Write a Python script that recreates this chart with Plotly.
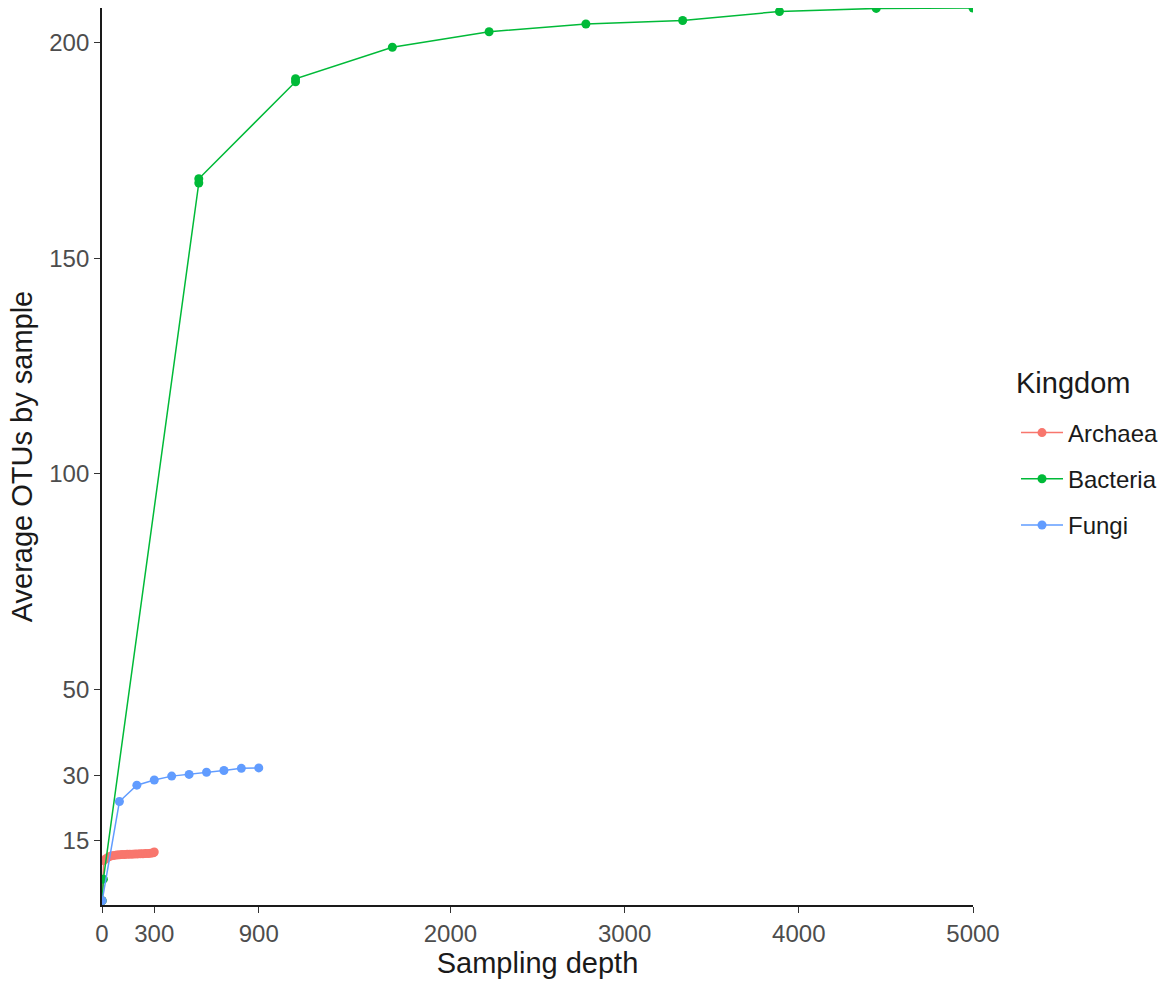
import plotly.graph_objects as go

# ---- data ----
archaea_x = [1, 10, 25, 40, 55, 70, 85, 100, 115, 130, 145, 160, 175, 190,
             205, 220, 235, 250, 265, 280, 295, 300]
archaea_y = [1, 10.3, 10.8, 11.2, 11.4, 11.5, 11.6, 11.65, 11.7, 11.72, 11.75,
             11.78, 11.8, 11.82, 11.85, 11.88, 11.9, 11.92, 11.95, 12.0, 12.1, 12.3]

bacteria_x = [1, 8, 555.6, 555.6, 1111.1, 1111.1, 1666.7, 2222.2, 2777.8,
              3333.3, 3888.9, 4444.4, 5000]
bacteria_y = [1, 6, 167.5, 168.5, 191.0, 191.7, 199.0, 202.6, 204.4,
              205.2, 207.3, 208.0, 208.1]

fungi_x = [1, 100, 200, 300, 400, 500, 600, 700, 800, 900]
fungi_y = [1, 24.0, 27.8, 29.0, 29.9, 30.3, 30.8, 31.2, 31.7, 31.8]

x_ticks = [0, 300, 900, 2000, 3000, 4000, 5000]
y_ticks = [15, 30, 50, 100, 150, 200]

series = [
    ("Archaea", archaea_x, archaea_y, "#F8766D"),
    ("Bacteria", bacteria_x, bacteria_y, "#00BA38"),
    ("Fungi", fungi_x, fungi_y, "#619CFF"),
]

FONT = "Liberation Sans, Arial, sans-serif"
W, H = 1173, 985
ML, MR, MT, MB = 102, 200, 8, 80
PW, PH = W - ML - MR, H - MT - MB

fig = go.Figure()
for name, xs, ys, col in series:
    fig.add_trace(go.Scatter(
        x=xs, y=ys, name=name, legendgroup=name, mode="lines+markers",
        line=dict(color=col, width=1.5),
        marker=dict(color=col, size=9),
    ))

fig.update_layout(
    width=W, height=H,
    margin=dict(l=ML, r=MR, t=MT, b=MB, autoexpand=False),
    paper_bgcolor="white", plot_bgcolor="white",
    font=dict(family=FONT, size=24, color="#1A1A1A"),
    legend=dict(
        x=(1016 - ML) / PW, xanchor="left",
        y=(MT + PH - 479) / PH, yanchor="middle",
        font=dict(size=24, color="#1A1A1A"),
        tracegroupgap=12, itemwidth=42,
    ),
    annotations=[dict(
        text="Kingdom", xref="paper", yref="paper",
        x=(1014 - ML) / PW, y=(MT + PH - 383) / PH,
        xanchor="left", yanchor="middle", showarrow=False,
        font=dict(size=29, color="#1A1A1A", family=FONT),
    )],
    hovermode=False,
)

axis_common = dict(
    showgrid=False, zeroline=False, showline=True,
    linecolor="#1A1A1A", linewidth=1.8,
    ticks="outside", ticklen=6, tickwidth=1.4, tickcolor="#333333",
    tickfont=dict(family=FONT, size=24, color="#4D4D4D"),
)

fig.update_xaxes(
    range=[0, 5000], tickvals=x_ticks, ticktext=[str(v) for v in x_ticks],
    title=dict(text="Sampling depth", font=dict(size=29, color="#1A1A1A"), standoff=6),
    **axis_common,
)
fig.update_yaxes(
    range=[0, 208.1], tickvals=y_ticks, ticktext=[str(v) for v in y_ticks],
    title=dict(text="Average OTUs by sample", font=dict(size=29, color="#1A1A1A"), standoff=8),
    **axis_common,
)

fig.write_html("out.html", config={"displayModeBar": False})
